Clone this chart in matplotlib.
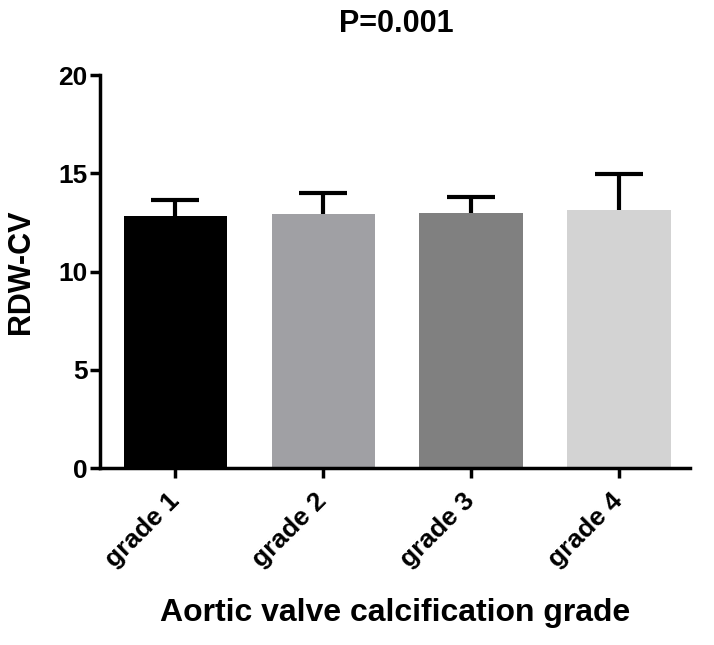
import matplotlib
matplotlib.use("Agg")
import matplotlib.pyplot as plt
import matplotlib.transforms as mtransforms
import numpy as np

categories = ["grade 1", "grade 2", "grade 3", "grade 4"]
means = [12.8, 12.95, 12.98, 13.15]
upper_err = [0.82, 1.02, 0.8, 1.83]
colors = ["#000000", "#a0a0a4", "#808080", "#d3d3d3"]
yticks = [0, 5, 10, 15, 20]

plt.rcParams['font.family'] = ['Liberation Sans', 'DejaVu Sans']
plt.rcParams['font.weight'] = 'bold'

W, H = 714, 645
fig = plt.figure(figsize=(W / 100, H / 100), dpi=100)
ax = fig.add_axes([100 / W, 1 - 468 / H, 590 / W, 393 / H])

x = np.arange(len(categories))
ax.bar(x, means, width=0.70, color=colors, zorder=2)
eb = ax.errorbar(x, means, yerr=[np.zeros(len(means)), upper_err], fmt='none',
                 ecolor='black', elinewidth=3, capsize=17, capthick=3, zorder=1)
# hide lower caps (only upper error shown)
eb[1][0].set_visible(False)

ax.set_xlim(-0.51, 3.48)
ax.set_ylim(0, 20)
ax.set_yticks(yticks)
ax.set_xticks(x)
ax.set_xticklabels(categories, rotation=45, ha='right', va='center',
                   rotation_mode='anchor', fontsize=19, fontweight='bold')
offset = mtransforms.ScaledTranslation(-4 / 100, -4 / 100, fig.dpi_scale_trans)
for lab in ax.get_xticklabels():
    lab.set_transform(lab.get_transform() + offset)
for lab in ax.get_yticklabels():
    lab.set_fontsize(19)
    lab.set_fontweight('bold')

for s in ['top', 'right']:
    ax.spines[s].set_visible(False)
for s in ['left', 'bottom']:
    ax.spines[s].set_linewidth(2.5)
ax.tick_params(axis='both', width=2.5, length=7, direction='out')
ax.tick_params(axis='x', pad=14)
ax.tick_params(axis='y', pad=2)

ax.set_ylabel("RDW-CV", fontsize=22, fontweight='bold', va='center')
ax.yaxis.set_label_coords(-0.134, 0.5)
ax.set_xlabel("Aortic valve calcification grade", fontsize=23, fontweight='bold', va='center')
ax.xaxis.set_label_coords(0.5, -0.37)
fig.text(396 / W, 1 - 24 / H, "P=0.001", fontsize=22, fontweight='bold',
         ha='center', va='center')

fig.savefig("out.png", dpi=100)
